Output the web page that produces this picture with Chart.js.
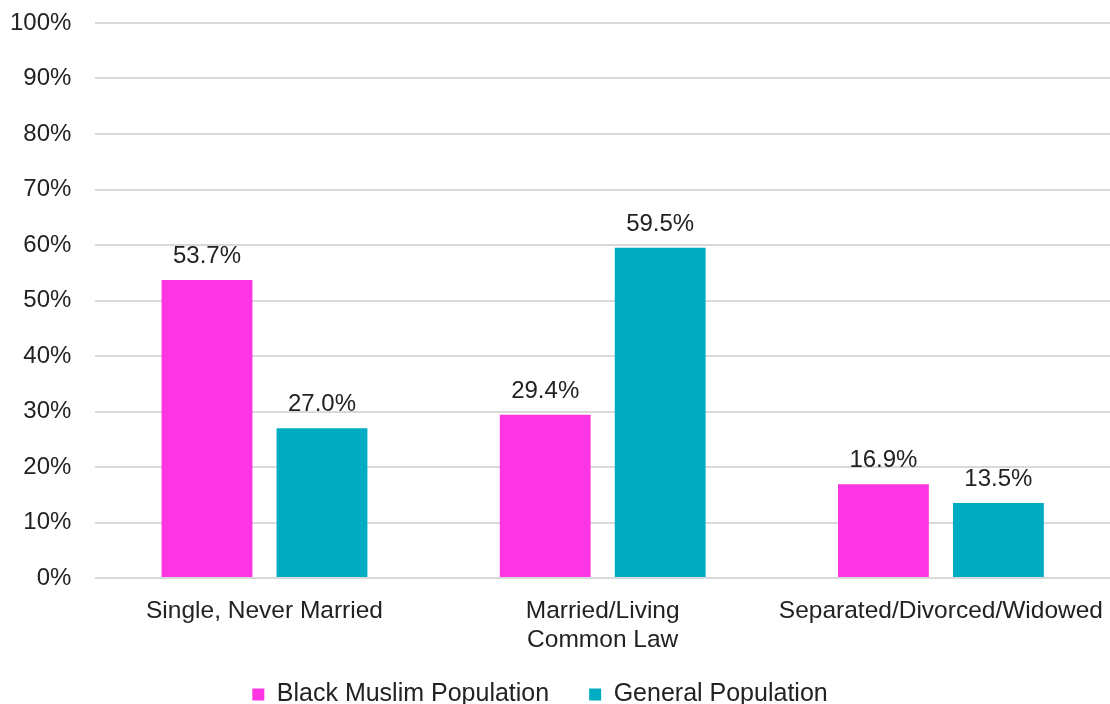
<!DOCTYPE html>
<html>
<head>
<meta charset="utf-8">
<script src="https://cdn.jsdelivr.net/npm/chart.js@4/dist/chart.umd.min.js"></script>
<style>
  html, body { margin: 0; padding: 0; background: #fff; }
  #wrap { width: 1110px; height: 704px; position: relative; }
</style>
</head>
<body>
<div id="wrap"><canvas id="chart"></canvas></div>
<script>
const categories = ['Single, Never Married', ['Married/Living', 'Common Law'], 'Separated/Divorced/Widowed'];
const blackMuslim = [53.7, 29.4, 16.9];
const generalPop = [27.0, 59.5, 13.5];
const yTicks = [0, 10, 20, 30, 40, 50, 60, 70, 80, 90, 100];

const textColor = '#222222';
const fontFamily = '"Liberation Sans", Arial, Helvetica, sans-serif';

// values above each bar
const barLabels = {
    id: 'barLabels',
    afterDatasetsDraw(chart) {
        const ctx = chart.ctx;
        ctx.save();
        ctx.font = '24px ' + fontFamily;
        ctx.fillStyle = textColor;
        ctx.textAlign = 'center';
        ctx.textBaseline = 'alphabetic';
        chart.data.datasets.forEach((ds, i) => {
            chart.getDatasetMeta(i).data.forEach((bar, j) => {
                ctx.fillText(ds.data[j].toFixed(1) + '%', bar.x, bar.y - 17);
            });
        });
        ctx.restore();
    }
};

// fixed legend height, then stretch its box upward / nudge it sideways
const legendShift = {
    id: 'legendShift',
    beforeInit(chart) {
        const fit = chart.legend.fit;
        chart.legend.fit = function () {
            fit.bind(this)();
            this.height = 52;
        };
    },
    afterLayout(chart) {
        const lg = chart.legend;
        lg.top -= 10;
        lg.left -= 20; lg.right -= 20;
    }
};

const ctx = document.getElementById('chart');

new Chart(ctx, {
    type: 'bar',
    data: {
        labels: categories,
        datasets: [{
            label: 'Black Muslim Population',
            data: blackMuslim,
            backgroundColor: '#FF34E2',
            categoryPercentage: 0.68,
            barPercentage: 0.79
        }, {
            label: 'General Population',
            data: generalPop,
            backgroundColor: '#00ACC1',
            categoryPercentage: 0.68,
            barPercentage: 0.79
        }]
    },
    options: {
        responsive: true,
        maintainAspectRatio: false,
        animation: false,
        layout: { padding: { top: 23, left: 10, right: 0, bottom: 0 } },
        scales: {
            x: {
                grid: { display: false },
                border: { display: false },
                ticks: {
                    color: textColor,
                    font: { family: fontFamily, size: 24.5, lineHeight: 1.18 },
                    padding: 11,
                    maxRotation: 0,
                    autoSkip: false
                },
                afterFit(axis) {
                    axis.paddingLeft = 0;
                    axis.paddingRight = 0;
                    axis.height = 74;
                }
            },
            y: {
                min: 0,
                max: 100,
                afterBuildTicks(axis) { axis.ticks = yTicks.map(v => ({ value: v })); },
                grid: { color: '#D9D9D9', lineWidth: 2, drawTicks: false },
                border: { display: false },
                ticks: {
                    color: textColor,
                    font: { family: fontFamily, size: 24 },
                    padding: 24,
                    callback: v => v + '%'
                },
                afterFit(axis) {
                    axis.width -= 24;
                    axis.paddingTop = 0;
                    axis.paddingBottom = 0;
                }
            }
        },
        plugins: {
            legend: {
                position: 'bottom',
                labels: {
                    color: textColor,
                    font: { family: fontFamily, size: 25 },
                    boxWidth: 12,
                    boxHeight: 12,
                    padding: 40
                }
            },
            tooltip: { enabled: false }
        }
    },
    plugins: [barLabels, legendShift]
});
</script>
</body>
</html>
